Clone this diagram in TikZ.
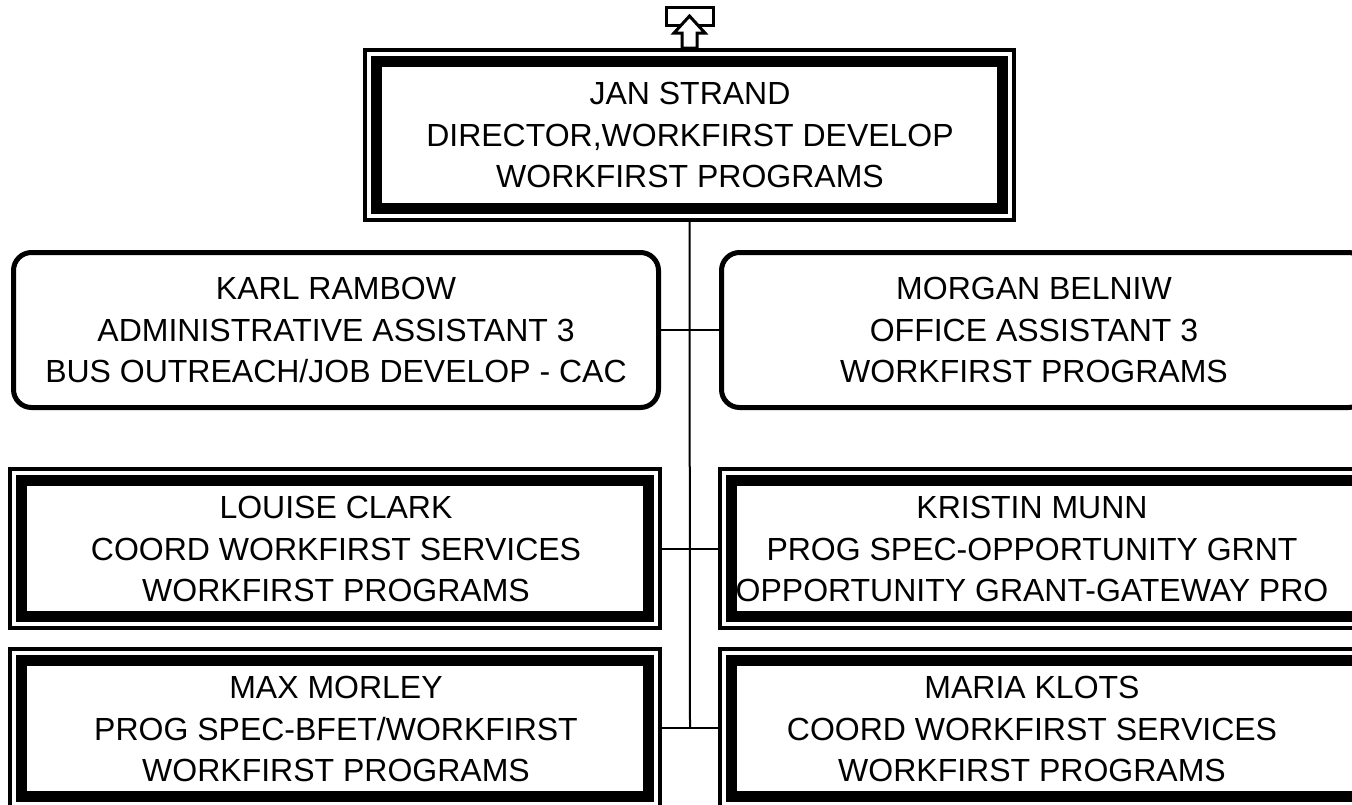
\documentclass[tikz,border=0pt]{standalone}
\usepackage{fontspec}
\setmainfont{Liberation Sans}
\begin{document}
\begin{tikzpicture}[x=1pt,y=-1pt,
  txt/.style={align=center,font=\fontsize{32}{41.5}\selectfont,inner sep=0pt},
  thinbox/.style={draw,line width=4pt,minimum width=#1,inner sep=0pt},
  thinbox/.default=650,
  thickbox/.style={draw,line width=11pt,inner sep=0pt},
  roundbox/.style={draw,line width=5pt,rounded corners=18pt,inner sep=0pt,minimum width=645pt,minimum height=155pt},
  conn/.style={line width=2pt}]
\useasboundingbox (0,0) rectangle (1352,804);
% connectors first
\coordinate (vbot) at (690,728);
\node[roundbox] (kb) at (336,330) {};
\node[roundbox] (mb) at (1044,330) {};
\node[thinbox, minimum width=650pt, minimum height=159pt] (lc) at (335,548.5) {};
\node[thinbox, minimum width=650pt, minimum height=159pt] (km) at (1045,548.5) {};
\node[thinbox, minimum width=650pt, minimum height=159pt] (mm) at (335,728.5) {};
\node[thinbox, minimum width=650pt, minimum height=159pt] (mk) at (1045,728.5) {};
\node[thinbox, minimum width=649pt, minimum height=170pt] (js) at (689.5,135) {};
\draw[conn] (js.south) -- (vbot);
\draw[conn] (kb.east) -- (mb.west);
\draw[conn] (lc.east) -- (km.west);
\draw[conn] (mm.east |- vbot) -- (mk.west |- vbot);
% inner thick borders
\foreach \n/\w/\h in {js/626/147, lc/627/136, km/627/136, mm/627/136, mk/627/136}
  \node[thickbox, minimum width=\w pt, minimum height=\h pt] (\n-in) at (\n.center) {};
% texts
\node[txt] (js-t) at (690,135) {JAN STRAND\\DIRECTOR,WORKFIRST DEVELOP\\WORKFIRST PROGRAMS};
\node[txt] (kb-t) at (336,330) {KARL RAMBOW\\ADMINISTRATIVE ASSISTANT 3\\BUS OUTREACH/JOB DEVELOP - CAC};
\node[txt] (mb-t) at (1034,330) {MORGAN BELNIW\\OFFICE ASSISTANT 3\\WORKFIRST PROGRAMS};
\node[txt] (lc-t) at (336,549) {LOUISE CLARK\\COORD WORKFIRST SERVICES\\WORKFIRST PROGRAMS};
\node[txt] (km-t) at (1032,549) {KRISTIN MUNN\\PROG SPEC-OPPORTUNITY GRNT\\OPPORTUNITY GRANT-GATEWAY PRO};
\node[txt] (mm-t) at (336,729) {MAX MORLEY\\PROG SPEC-BFET/WORKFIRST\\WORKFIRST PROGRAMS};
\node[txt] (mk-t) at (1032,729) {MARIA KLOTS\\COORD WORKFIRST SERVICES\\WORKFIRST PROGRAMS};
% top arrow symbol
\draw[line width=3pt,fill=white] (666,7.5) rectangle (713.5,25);
\draw[line width=3pt,fill=white,line join=miter] (689.5,16) -- (705,33) -- (697,33) -- (697,48) -- (682,48) -- (682,33) -- (674,33) -- cycle;
\end{tikzpicture}
\end{document}
